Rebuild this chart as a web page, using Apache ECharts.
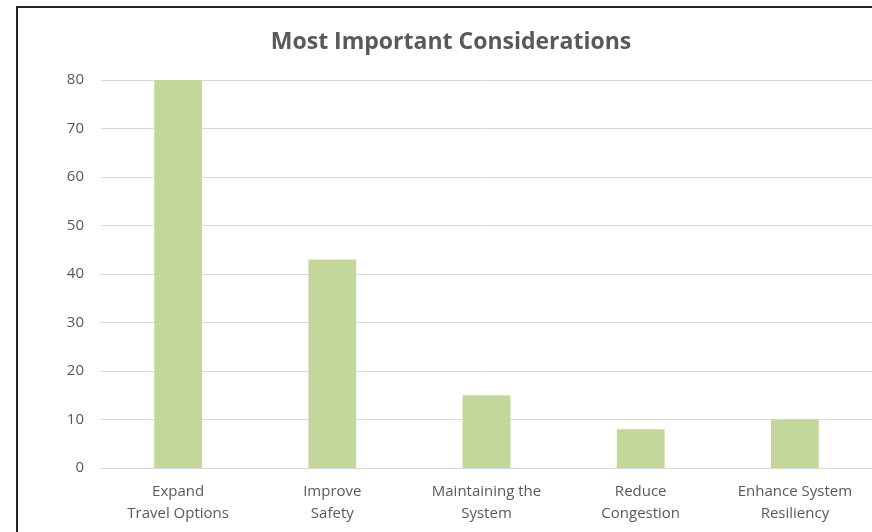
<!DOCTYPE html>
<html>
<head>
<meta charset="utf-8">
<script src="https://cdn.jsdelivr.net/npm/echarts@6/dist/echarts.min.js"></script>
<style>
html,body{margin:0;padding:0;background:#fff;}
#frame{position:absolute;left:16px;top:6px;width:870px;height:540px;border:2px solid #262626;box-sizing:border-box;}
#chart{position:absolute;left:0;top:0;width:872px;height:532px;}
</style>
</head>
<body>
<div id="frame"></div>
<div id="chart"></div>
<script>
const titleText = "Most Important Considerations";
const categories = ["Expand\nTravel Options", "Improve\nSafety", "Maintaining the\nSystem", "Reduce\nCongestion", "Enhance System\nResiliency"];
const values = [80, 43, 15, 8, 10];
const yTicks = [0, 10, 20, 30, 40, 50, 60, 70, 80];

const chart = echarts.init(document.getElementById('chart'), null, {renderer: 'canvas'});
chart.setOption({
  animation: false,
  backgroundColor: 'transparent',
  title: {
    text: titleText,
    left: 446, top: 26, textAlign: 'center',
    textStyle: {fontFamily: 'Open Sans', fontWeight: 'bold', fontSize: 23, color: '#595959'}
  },
  grid: {left: 101, right: -2, top: 80, bottom: 64, containLabel: false},
  xAxis: {
    type: 'category',
    data: categories,
    axisLine: {lineStyle: {color: '#d9d9d9', width: 1}},
    axisTick: {show: false},
    axisLabel: {color: '#595959', fontFamily: 'Open Sans', fontSize: 15, lineHeight: 22, margin: 13, interval: 0}
  },
  yAxis: {
    type: 'value',
    min: yTicks[0], max: yTicks[yTicks.length - 1], interval: 10,
    axisLine: {show: false},
    axisTick: {show: false},
    splitLine: {lineStyle: {color: '#d9d9d9', width: 1}},
    axisLabel: {color: '#595959', fontFamily: 'Open Sans', fontSize: 15, margin: 17}
  },
  series: [{
    type: 'bar',
    data: values,
    barWidth: '31%',
    itemStyle: {color: '#c4d79b'}
  }]
});
</script>
</body>
</html>
